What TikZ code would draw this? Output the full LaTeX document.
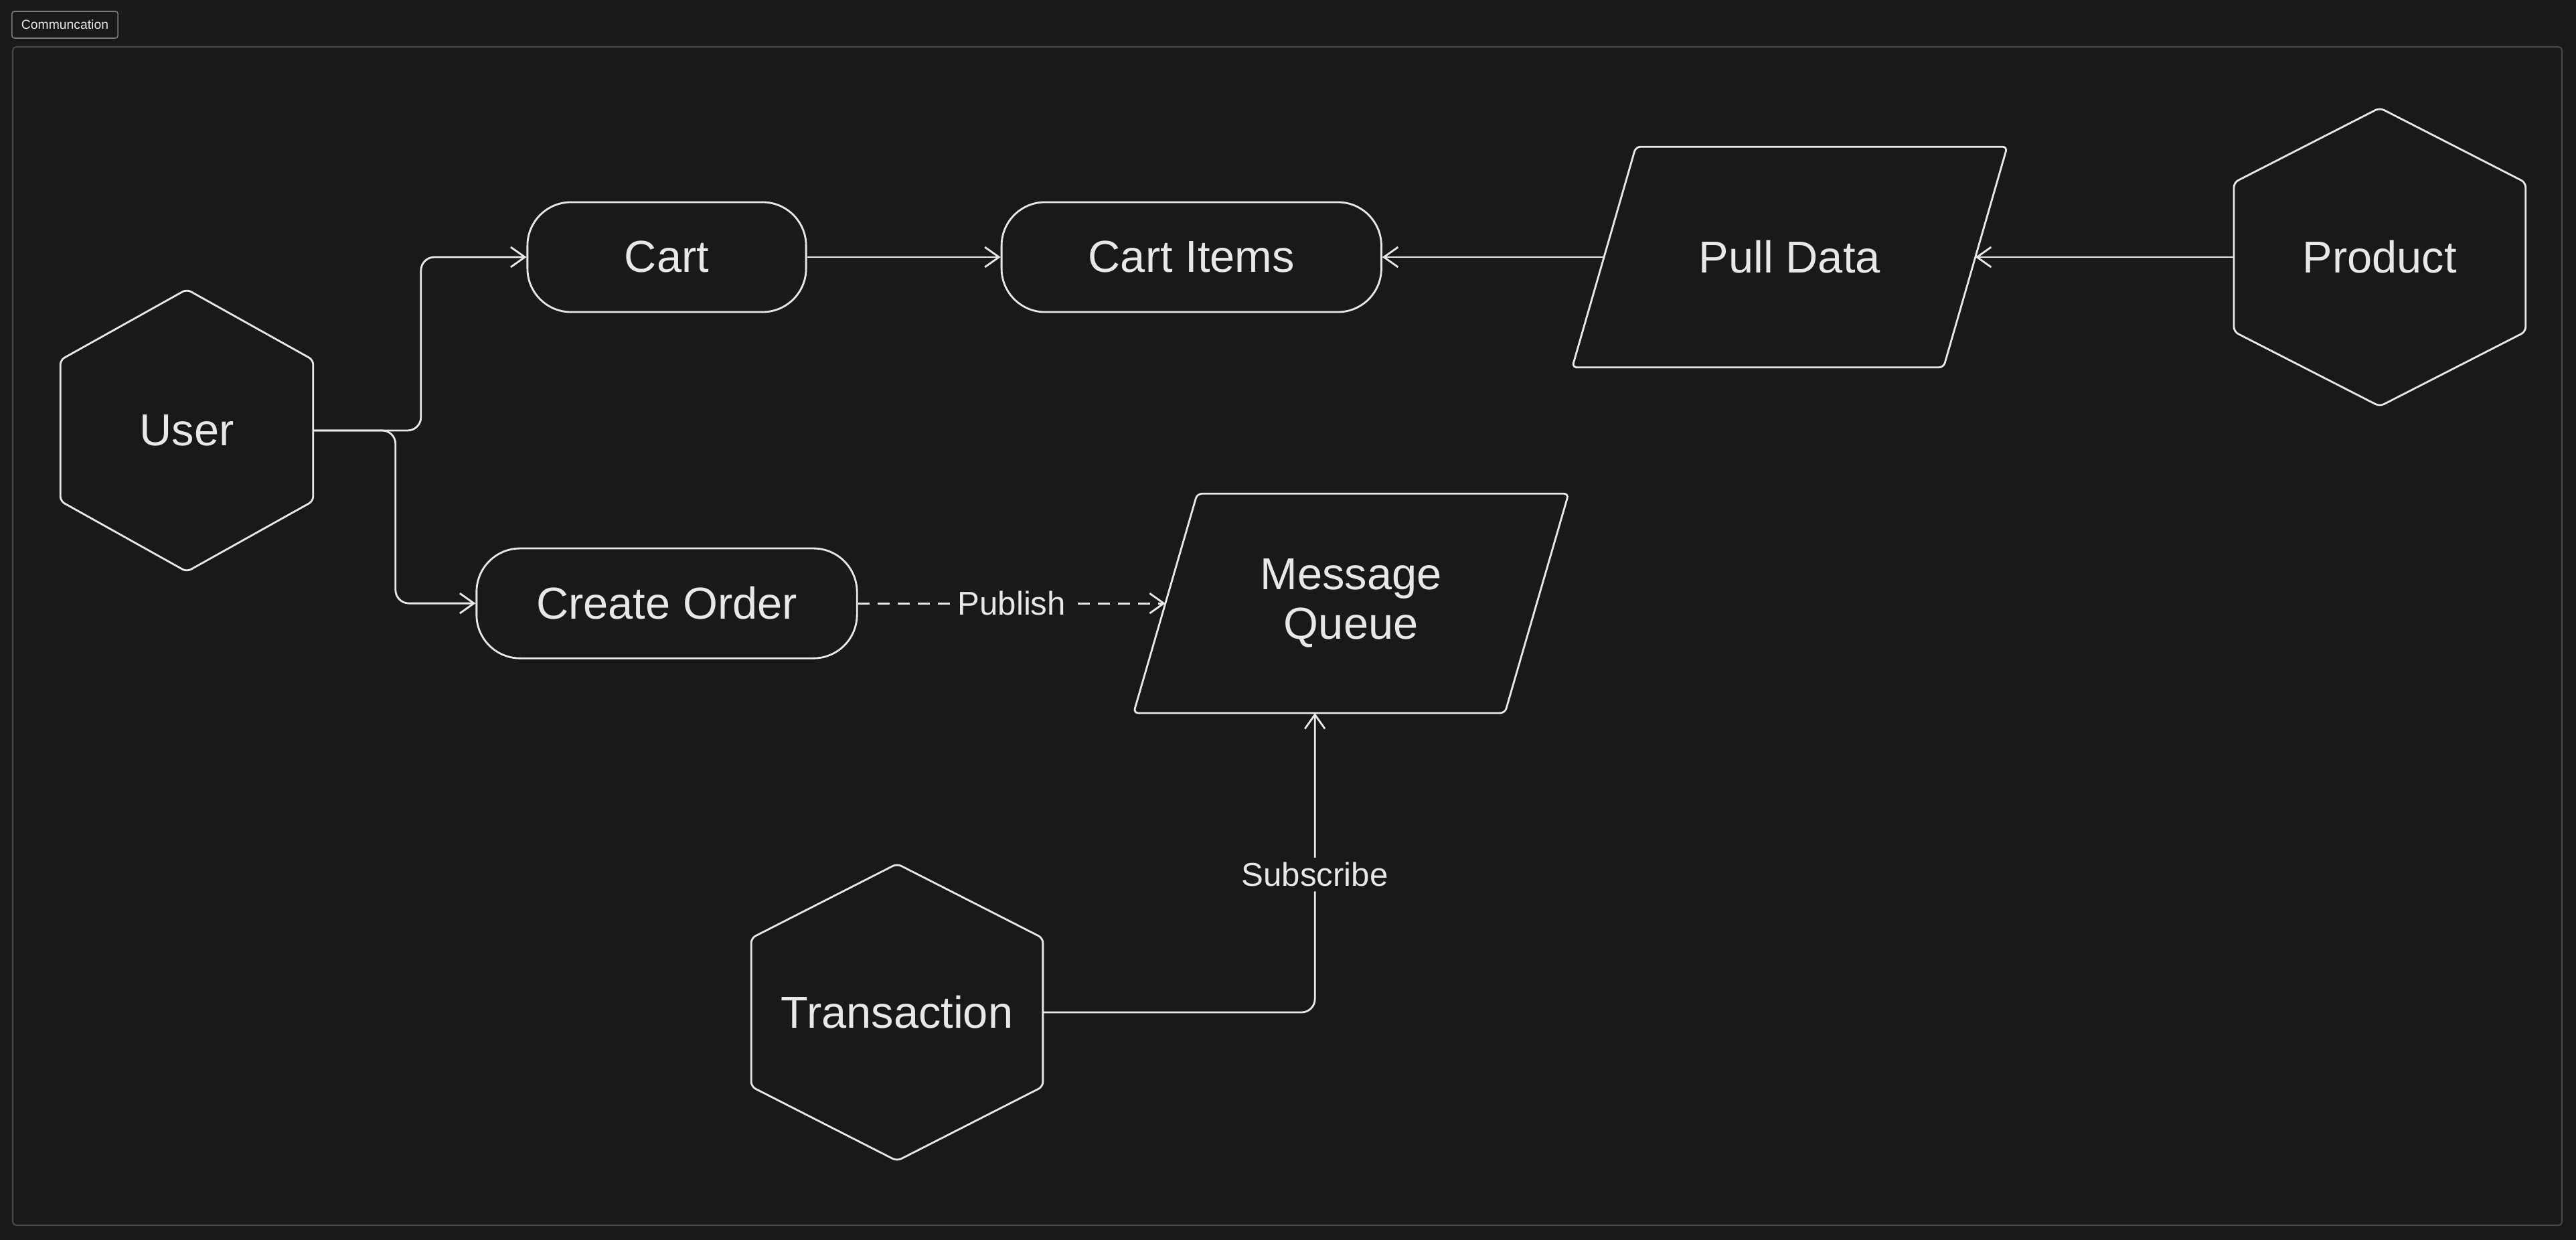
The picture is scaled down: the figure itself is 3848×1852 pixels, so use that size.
\documentclass[tikz,border=0pt]{standalone}
\usepackage{fontspec}
\setmainfont{Liberation Sans}
\usetikzlibrary{arrows.meta,positioning,calc}
\definecolor{bg}{HTML}{191919}
\definecolor{ink}{HTML}{E8E8E8}
\definecolor{framegray}{HTML}{46474B}
\definecolor{tagborder}{HTML}{7A7A7A}
\newcommand*{\HexOutline}[1]{%
  \draw[outline] (#1.north) -- ($(#1.north east)!0.25!(#1.south east)$)
    -- ($(#1.north east)!0.75!(#1.south east)$) -- (#1.south)
    -- ($(#1.north west)!0.75!(#1.south west)$)
    -- ($(#1.north west)!0.25!(#1.south west)$) -- cycle;}
\newcommand*{\SlantShift}{0.475cm}
\newcommand*{\SlantOutline}[1]{%
  \draw[outline] ($(#1.north west)+(\SlantShift,0)$) -- ($(#1.north east)+(\SlantShift,0)$)
    -- ($(#1.south east)-(\SlantShift,0)$) -- ($(#1.south west)-(\SlantShift,0)$) -- cycle;}
\begin{document}
\begin{tikzpicture}[x=0.01cm,y=-0.01cm,>={Straight Barb[length=6pt,width=8.5pt]},
  font=\fontsize{19}{21}\selectfont,text=ink,
  outline/.style={draw=ink,line width=0.8pt,rounded corners=2pt},
  hexbox/.style={inner sep=0pt,align=center},
  slantbox/.style={inner sep=0pt,align=center,minimum width=5.53cm},
  pill/.style={draw=ink,line width=0.8pt,rounded corners=0.65cm,minimum height=1.64cm,inner sep=0pt},
  conn/.style={draw=ink,line width=0.8pt,->,rounded corners=0.2cm},
  edgelabel/.style={fill=bg,font=\fontsize{14}{16}\selectfont,inner sep=2pt}]
\fill[bg] (0,0) rectangle (3848,1852);
\draw[framegray,line width=0.6pt,rounded corners=1.5pt] (19,70) rectangle (3827,1830);
\node[draw=tagborder,line width=0.45pt,rounded corners=1pt,font=\fontsize{5.5}{6}\selectfont,minimum width=1.58cm,minimum height=0.4cm,inner sep=0pt] (tag) at (97,37) {Communcation};
\node[hexbox,minimum width=3.76cm,minimum height=4.2cm] (user) at (279,643) {User};
\node[pill,minimum width=4.16cm] (cart) at (996,384) {Cart};
\node[pill,minimum width=5.67cm,right=2.89cm of cart] (items) {Cart Items};
\node[slantbox,minimum height=3.28cm,right=3.31cm of items] (pull) {Pull Data};
\node[hexbox,minimum width=4.34cm,minimum height=4.44cm,right=3.86cm of pull] (product) {Product};
\node[pill,minimum width=5.68cm,below=3.5cm of cart] (order) {Create Order};
\node[slantbox,minimum height=3.26cm,right=4.59cm of order] (queue) {Message\\Queue};
\node[hexbox,minimum width=4.34cm,minimum height=4.42cm] (trans) at (1340,1512) {Transaction};
\foreach \n in {user,product,trans} {\HexOutline{\n}}
\foreach \n in {pull,queue} {\SlantOutline{\n}}
\draw[conn] (user.east) -- ++(161,0) |- (cart.west);
\draw[conn] (user.east) -- ++(123,0) |- (order.west);
\draw[conn] (cart) -- (items);
\draw[conn] (pull) -- (items);
\draw[conn] (product) -- (pull);
\draw[conn,dash pattern=on 5pt off 3.5pt] (order) -- node[edgelabel]{Publish} (queue);
\draw[conn] (trans.east) -| node[edgelabel,pos=0.73]{Subscribe} ([xshift=-0.54cm]queue.south);
\end{tikzpicture}
\end{document}
